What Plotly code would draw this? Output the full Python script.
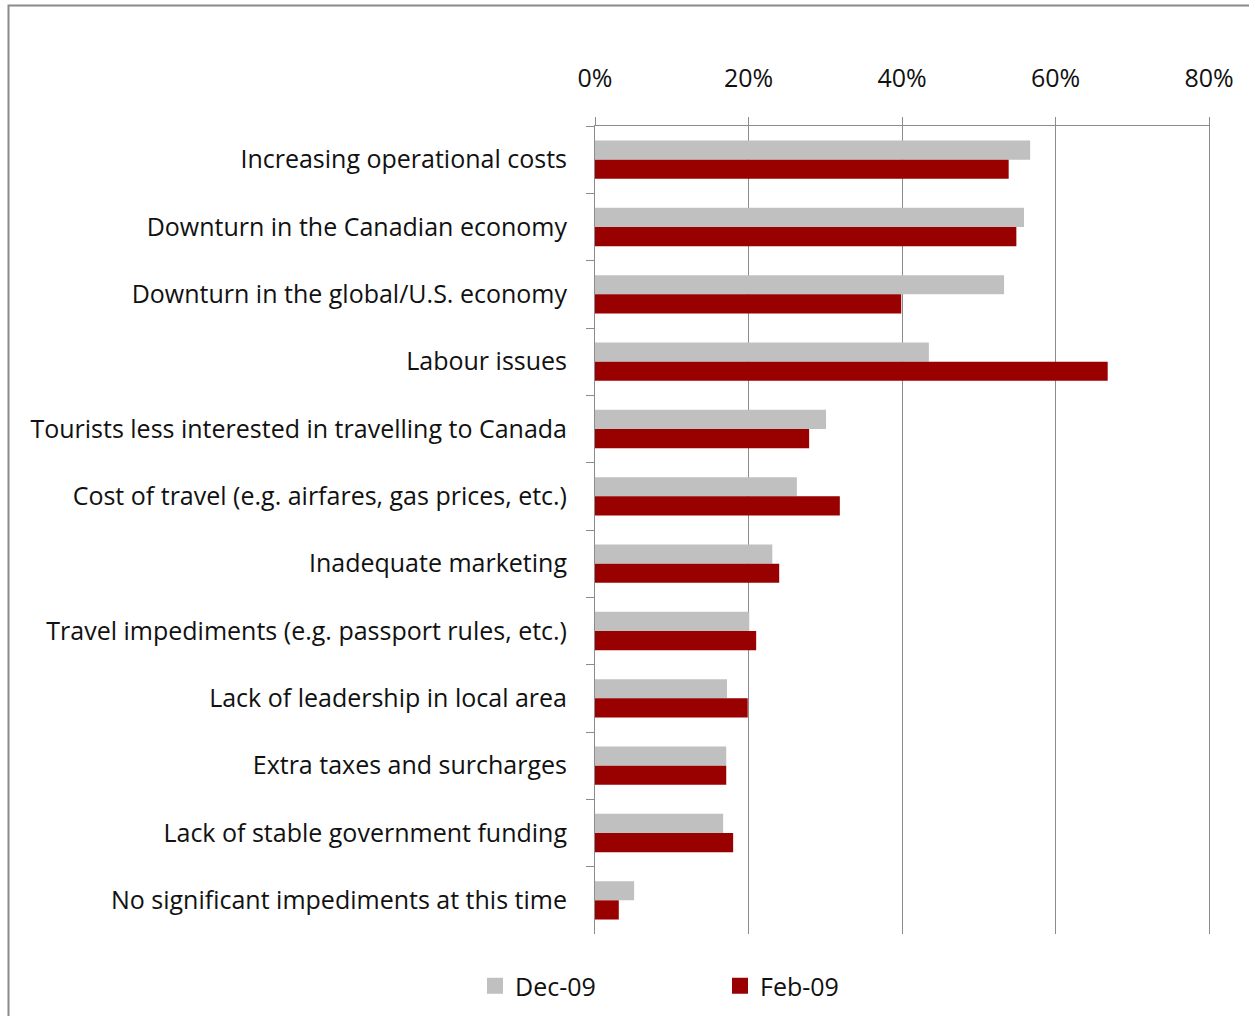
import plotly.graph_objects as go

categories = [
    "Increasing operational costs",
    "Downturn in the Canadian economy",
    "Downturn in the global/U.S. economy",
    "Labour issues",
    "Tourists less interested in travelling to Canada",
    "Cost of travel (e.g. airfares, gas prices, etc.)",
    "Inadequate marketing",
    "Travel impediments (e.g. passport rules, etc.)",
    "Lack of leadership in local area",
    "Extra taxes and surcharges",
    "Lack of stable government funding",
    "No significant impediments at this time",
]
dec09 = [0.567, 0.559, 0.533, 0.435, 0.301, 0.263, 0.231, 0.201, 0.172, 0.171, 0.167, 0.051]
feb09 = [0.539, 0.549, 0.399, 0.668, 0.279, 0.319, 0.240, 0.210, 0.199, 0.171, 0.180, 0.031]
x_ticks = [0, 0.2, 0.4, 0.6, 0.8]
series_names = ["Dec-09", "Feb-09"]
series_colors = ["#C0C0C0", "#990000"]

FONT = "Open Sans"
FS = 25
L, R, T, B = 595, 40, 126, 82
W, H = 1249, 1016
pw, ph = W - L - R, H - T - B

fig = go.Figure()
for vals, name, col in zip([dec09, feb09], series_names, series_colors):
    fig.add_trace(go.Bar(y=categories, x=vals, orientation="h", name=name,
                         marker=dict(color=col, line=dict(width=0)), showlegend=False))
# legend-only entries with larger square swatches
for name, col in zip(series_names, series_colors):
    fig.add_trace(go.Scatter(x=[None], y=[None], mode="markers", name=name,
                             marker=dict(symbol="square", size=16, color=col)))

fig.update_layout(
    width=W, height=H,
    margin=dict(l=L, r=R, t=T, b=B, autoexpand=False),
    paper_bgcolor="white", plot_bgcolor="white",
    barmode="group", bargap=0.43, bargroupgap=0,
    font=dict(family=FONT, size=FS, color="#111111"),
    showlegend=True,
    legend=dict(orientation="h", x=(488 - 13 - L) / pw, xanchor="left",
                y=-(986 - (T + ph)) / ph, yanchor="middle",
                font=dict(size=FS, family=FONT), entrywidth=200, entrywidthmode="pixels",
                itemwidth=30, tracegroupgap=0),
    xaxis=dict(side="top", range=[0, 0.8], tickvals=x_ticks, tickformat=".0%",
               showgrid=True, gridcolor="#8C8C8C", gridwidth=1,
               showline=True, linecolor="#8C8C8C", linewidth=1,
               ticks="outside", ticklen=8, tickcolor="#8C8C8C",
               ticklabelstandoff=20, zeroline=False,
               tickfont=dict(size=FS, family=FONT)),
    yaxis=dict(autorange="reversed", type="category",
               showline=True, linecolor="#8C8C8C", linewidth=1, mirror=True,
               ticks="outside", ticklen=8, tickcolor="#8C8C8C", tickson="boundaries",
               ticklabelstandoff=22, showgrid=False,
               tickfont=dict(size=FS, family=FONT)),
    shapes=[dict(type="rect", xref="paper", yref="paper",
                 x0=(8.5 - L) / pw, x1=1.2, y0=-0.3, y1=1 + (T - 5.5) / ph,
                 line=dict(color="#8A8A8A", width=2), fillcolor="rgba(0,0,0,0)", layer="below")],
)

fig.write_html("out.html")
